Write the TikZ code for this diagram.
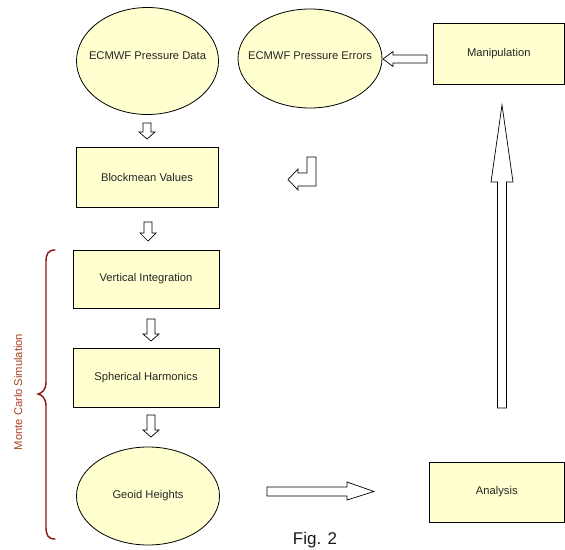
\documentclass[tikz,border=0pt]{standalone}
\usepackage{fontspec}
\setmainfont{Liberation Sans}
\usetikzlibrary{shapes.geometric}
\definecolor{boxfill}{RGB}{255,255,208}
\definecolor{bracecol}{RGB}{140,20,20}
\definecolor{mctext}{RGB}{175,65,35}
\tikzset{
  lbl/.style={font=\fontsize{11.2}{13}\selectfont, text=black!85},
  procbox/.style={draw=black, line width=0.8pt, fill=boxfill, rectangle, inner sep=0pt, lbl},
  databox/.style={draw=black, line width=0.8pt, fill=boxfill, ellipse, inner sep=0pt},
  blockarrow/.style={draw=black, line width=0.7pt, fill=white, line join=miter},
}
\begin{document}
\begin{tikzpicture}[x=1pt,y=-1pt]
\useasboundingbox (0,0) rectangle (565,549);
\fill[white] (0,0) rectangle (565,549);

% nodes
\node[databox, minimum width=142pt, minimum height=107pt,
  label={[lbl, yshift=5pt]center:ECMWF Pressure Data}] (data) at (147.5,61) {};
\node[databox, minimum width=144pt, minimum height=99pt,
  label={[lbl, yshift=3pt]center:ECMWF Pressure Errors}] (errors) at (310,58.5) {};
\node[procbox, minimum width=131pt, minimum height=61pt] (manip) at (498.75,53.5) {Manipulation};
\node[procbox, minimum width=142pt, minimum height=60pt] (block) at (147,177) {Blockmean Values};
\node[procbox, minimum width=146pt, minimum height=58pt] (vint) at (146,279) {Vertical Integration};
\node[procbox, minimum width=146pt, minimum height=59pt] (sph) at (146,377.5) {Spherical Harmonics};
\node[databox, minimum width=143pt, minimum height=98pt,
  label={[lbl]center:Geoid Heights}] (geoid) at (148,496) {};
\node[procbox, minimum width=135.5pt, minimum height=60pt] (analysis) at (496.75,492) {Analysis};

% small down arrows
\draw[blockarrow] (143,123)--(151,123)--(151,132)--(155,132)--(147,139)--(139,132)--(143,132)--cycle;
\draw[blockarrow] (144,222)--(152,222)--(152,233)--(156,233)--(148,241)--(140,233)--(144,233)--cycle;
\draw[blockarrow] (147,319)--(155,319)--(155,334)--(159,334)--(151,341)--(143,334)--(147,334)--cycle;
\draw[blockarrow] (147,415)--(155,415)--(155,430)--(159,430)--(151,437)--(143,430)--(147,430)--cycle;

% left arrow manipulation -> errors
\draw[blockarrow] (427,55)--(427,63)--(393,63)--(393,66.5)--(383,59)--(393,51.5)--(393,55)--cycle;

% big up arrow analysis -> manipulation
\draw[blockarrow] (497.5,408)--(506.5,408)--(506.5,182)--(513,182)--(502,105)--(491,182)--(497.5,182)--cycle;

% right arrow geoid -> analysis
\draw[blockarrow] (267,487)--(347,487)--(347,482)--(374,491.5)--(347,500)--(347,496)--(267,496)--cycle;

% bent return arrow
\draw[blockarrow] (316,157)--(316,186)--(298,186)--(298,190)--(288,179.5)--(298,169)--(298,173)--(307,173)--(307,157)--cycle;

% brace
\draw[bracecol, line width=1.4pt, line cap=round]
  (55,250) .. controls (48,250) and (46,254) .. (46,262)
  -- (46,382) .. controls (46,390) and (42,393) .. (38,394)
  .. controls (42,395) and (46,398) .. (46,406)
  -- (46,527) .. controls (46,535) and (48,539) .. (55,539);
\node[rotate=90, text=mctext, font=\fontsize{11.2}{13}\selectfont] (mc) at (18,392) {Monte Carlo Simulation};

% caption
\node[font=\fontsize{17}{20}\selectfont, text=black!90] (fig) at (315,540) {Fig. 2};
\end{tikzpicture}
\end{document}
